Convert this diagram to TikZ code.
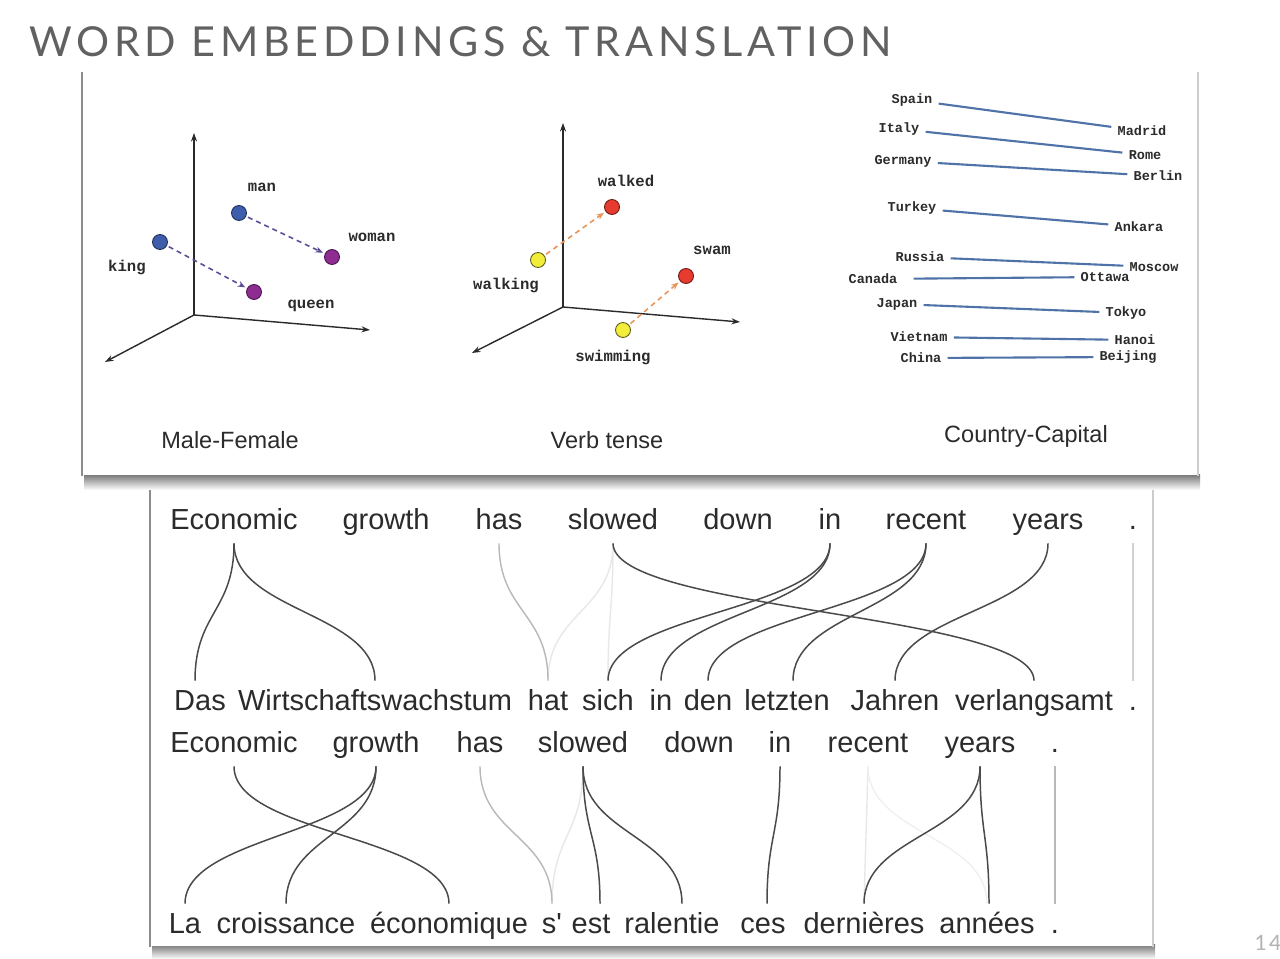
\documentclass[tikz,border=0pt]{standalone}
\usepackage{fontspec}
\setmainfont{Liberation Sans}
\newfontfamily\titlefont[LetterSpace=11.5]{Lato}
\newfontfamily\monofont{Liberation Mono}
\usetikzlibrary{arrows.meta,calc}
\definecolor{txt}{HTML}{2B2B2B}
\definecolor{dblue}{HTML}{3E5DAA}
\definecolor{dblueo}{HTML}{1F2F5A}
\definecolor{dpurple}{HTML}{8E2C91}
\definecolor{dpurpleo}{HTML}{4A1350}
\definecolor{dyellow}{HTML}{F2EC3A}
\definecolor{dyellowo}{HTML}{5E5C1C}
\definecolor{dred}{HTML}{E63B2E}
\definecolor{dredo}{HTML}{6B1A14}
\definecolor{arrpurple}{HTML}{5B4E96}
\definecolor{arrorange}{HTML}{E8955A}
\definecolor{caplinecol}{HTML}{4F72A8}
\definecolor{axiscol}{HTML}{2A2A2A}
\definecolor{alcol}{HTML}{4A4A4A}
\begin{document}
\begin{tikzpicture}[x=0.02cm,y=-0.02cm,
  axisline/.style={draw=axiscol,line width=0.8pt,-{Stealth[length=0.17cm,width=0.12cm]}},
  ptdot/.style={circle,draw,line width=0.5pt,minimum size=0.3cm,inner sep=0pt},
  lbl/.style={font=\monofont\bfseries\fontsize{8.9pt}{10pt}\selectfont,text=txt,inner sep=0pt},
  clbl/.style={font=\monofont\bfseries\fontsize{7.7pt}{9pt}\selectfont,text=txt,inner sep=0.12cm},
  dasharr/.style={line width=0.9pt,dash pattern=on 0.1cm off 0.08cm,-{Stealth[length=0.15cm,width=0.12cm]},shorten >=0.04cm,shorten <=0.04cm},
  cline/.style={draw=caplinecol,line width=1.2pt},
  captxt/.style={font=\fontsize{13.4pt}{15pt}\selectfont,text=txt,inner sep=0pt},
  word/.style={font=\fontsize{16.5pt}{18pt}\selectfont,text=txt,anchor=base,inner xsep=0pt,inner ysep=0.16cm,text height=0.42cm,text depth=0.12cm},
  al/.style={draw=alcol,line width=0.85pt},
  allight/.style={draw=black!28,line width=0.8pt},
  alfaint/.style={draw=black!9,line width=0.8pt}
]
\useasboundingbox (0,0) rectangle (1280,959);
\fill[white] (0,0) rectangle (1280,959);

% title
\node[font=\titlefont\fontsize{23.5pt}{26pt}\selectfont,text=black!62,anchor=base west,inner sep=0pt] (title) at (29,57) {WORD EMBEDDINGS \& TRANSLATION};

% top panel
\shade[top color=black!55,bottom color=white] (84,474) rectangle (1200,490);
\fill[white] (82,72) rectangle (1198,475);
\draw[black!45,line width=1.2pt] (82,72) -- (82,476);
\draw[black!20,line width=1pt] (1198,72) -- (1198,476);

% Male-Female
\coordinate (mo) at (194,315);
\coordinate (mz) at (194,133);
\coordinate (mx) at (370,330);
\coordinate (my) at (105,362);
\draw[axisline] (mo) -- (mz);
\draw[axisline] (mo) -- (mx);
\draw[axisline] (mo) -- (my);
\node[ptdot,fill=dblue,draw=dblueo] (man) at (239,213) {};
\node[ptdot,fill=dblue,draw=dblueo] (king) at (160,242) {};
\node[ptdot,fill=dpurple,draw=dpurpleo] (woman) at (332,257) {};
\node[ptdot,fill=dpurple,draw=dpurpleo] (queen) at (254,292) {};
\draw[dasharr,arrpurple] (man) -- (woman);
\draw[dasharr,arrpurple] (king) -- (queen);
\node[lbl] (lman) at (262,187) {man};
\node[lbl] (lwoman) at (372,237) {woman};
\node[lbl] (lking) at (127,267) {king};
\node[lbl] (lqueen) at (311,306) {queen};
\node[captxt] (cap1) at (230,440) {Male-Female};

% Verb tense
\coordinate (vo) at (563,307);
\coordinate (vz) at (563,123);
\coordinate (vx) at (740,322);
\coordinate (vy) at (472,353);
\draw[axisline] (vo) -- (vz);
\draw[axisline] (vo) -- (vx);
\draw[axisline] (vo) -- (vy);
\node[ptdot,fill=dred,draw=dredo] (walked) at (612,207) {};
\node[ptdot,fill=dyellow,draw=dyellowo] (walking) at (538,260) {};
\node[ptdot,fill=dred,draw=dredo] (swam) at (686,276) {};
\node[ptdot,fill=dyellow,draw=dyellowo] (swimming) at (623,330) {};
\draw[dasharr,arrorange] (walking) -- (walked);
\draw[dasharr,arrorange] (swimming) -- (swam);
\node[lbl] (lwalked) at (626,181) {walked};
\node[lbl] (lwalking) at (506,285) {walking};
\node[lbl] (lswam) at (712,250) {swam};
\node[lbl] (lswimming) at (613,357) {swimming};
\node[captxt] (cap2) at (607,440) {Verb tense};

% Country-Capital
\node[clbl] (spain) at (912,100) {Spain};
\node[clbl] (madrid) at (1142,131) {Madrid};
\node[clbl] (italy) at (899,129) {Italy};
\node[clbl] (rome) at (1145,155) {Rome};
\node[clbl] (germany) at (903,161) {Germany};
\node[clbl] (berlin) at (1158,176) {Berlin};
\node[clbl] (turkey) at (912,208) {Turkey};
\node[clbl] (ankara) at (1139,227) {Ankara};
\node[clbl] (russia) at (920,257) {Russia};
\node[clbl] (moscow) at (1154,267) {Moscow};
\node[clbl] (canada) at (873,279) {Canada};
\node[clbl] (ottawa) at (1105,277) {Ottawa};
\node[clbl] (japan) at (897,304) {Japan};
\node[clbl] (tokyo) at (1126,313) {Tokyo};
\node[clbl] (vietnam) at (919,337) {Vietnam};
\node[clbl] (hanoi) at (1135,340) {Hanoi};
\node[clbl] (china) at (921,358) {China};
\node[clbl] (beijing) at (1128,357) {Beijing};
\draw[cline] (spain) -- (madrid);
\draw[cline] (italy) -- (rome);
\draw[cline] (germany) -- (berlin);
\draw[cline] (turkey) -- (ankara);
\draw[cline] (russia) -- (moscow);
\draw[cline,shorten <=0.2cm] (canada) -- (ottawa);
\draw[cline] (japan) -- (tokyo);
\draw[cline] (vietnam) -- (hanoi);
\draw[cline] (china) -- (beijing);
\node[captxt] (cap3) at (1026,436) {Country-Capital};

% bottom panel
\shade[top color=black!55,bottom color=white] (152,944) rectangle (1155,959);
\fill[white] (150,490) rectangle (1153,946);
\draw[black!45,line width=1.2pt] (150,490) -- (150,947);
\draw[black!20,line width=1pt] (1153,490) -- (1153,947);

% row 1 English
\node[word] (a1) at (234,529) {Economic};
\node[word] (a2) at (386,529) {growth};
\node[word] (a3) at (499,529) {has};
\node[word] (a4) at (613,529) {slowed};
\node[word] (a5) at (738,529) {down};
\node[word] (a6) at (830,529) {in};
\node[word] (a7) at (926,529) {recent};
\node[word] (a8) at (1048,529) {years};
\node[word] (a9) at (1133,529) {.};
% row 2 German
\node[word] (b1) at (200,710) {Das};
\node[word] (b2) at (375,710) {Wirtschaftswachstum};
\node[word] (b3) at (548,710) {hat};
\node[word] (b4) at (608,710) {sich};
\node[word] (b5) at (661,710) {in};
\node[word] (b6) at (708,710) {den};
\node[word] (b7) at (787,710) {letzten};
\node[word] (b8) at (895,710) {Jahren};
\node[word] (b9) at (1034,710) {verlangsamt};
\node[word] (b10) at (1133,710) {.};
% row 3 English
\node[word] (c1) at (234,752) {Economic};
\node[word] (c2) at (376,752) {growth};
\node[word] (c3) at (480,752) {has};
\node[word] (c4) at (583,752) {slowed};
\node[word] (c5) at (699,752) {down};
\node[word] (c6) at (780,752) {in};
\node[word] (c7) at (868,752) {recent};
\node[word] (c8) at (980,752) {years};
\node[word] (c9) at (1055,752) {.};
% row 4 French
\node[word] (d1) at (185,933) {La};
\node[word] (d2) at (286,933) {croissance};
\node[word] (d3) at (449,933) {économique};
\node[word] (d4) at (552,933) {s\textquotesingle};
\node[word] (d5) at (591,933) {est};
\node[word] (d6) at (672,933) {ralentie};
\node[word] (d7) at (763,933) {ces};
\node[word] (d8) at (864,933) {dernières};
\node[word] (d9) at (987,933) {années};
\node[word] (d10) at (1055,933) {.};

% alignments English-German
\draw[alfaint] (a4.south) .. controls +(0,68) and +(0,-68) .. (b3.north);
\draw[alfaint] (a4.south) .. controls +(0,68) and +(0,-68) .. (b4.north);
\draw[allight] (a3.south) .. controls +(0,68) and +(0,-68) .. (b3.north);
\draw[allight,draw=black!18] (a9.south) -- (b10.north);
\draw[al] (a1.south) .. controls +(0,68) and +(0,-68) .. ($(b1.north)+(-5,0)$);
\draw[al] (a1.south) .. controls +(0,68) and +(0,-68) .. (b2.north);
\draw[al] (a4.south) .. controls +(0,68) and +(0,-68) .. (b9.north);
\draw[al] (a6.south) .. controls +(0,68) and +(0,-68) .. (b4.north);
\draw[al] (a6.south) .. controls +(0,68) and +(0,-68) .. (b5.north);
\draw[al] (a7.south) .. controls +(0,68) and +(0,-68) .. (b6.north);
\draw[al] (a7.south) .. controls +(0,68) and +(0,-68) .. ($(b7.north)+(6,0)$);
\draw[al] (a8.south) .. controls +(0,68) and +(0,-68) .. (b8.north);

% alignments English-French
\draw[alfaint] (c4.south) .. controls +(0,68) and +(0,-68) .. (d4.north);
\draw[alfaint] (c7.south) -- (d8.north);
\draw[alfaint,draw=black!6] (c7.south) .. controls +(0,68) and +(0,-68) .. (d9.north);
\draw[allight] (c3.south) .. controls +(0,68) and +(0,-68) .. (d4.north);
\draw[allight] (c9.south) -- (d10.north);
\draw[al] (c1.south) .. controls +(0,68) and +(0,-68) .. (d3.north);
\draw[al] (c2.south) .. controls +(0,68) and +(0,-68) .. (d1.north);
\draw[al] (c2.south) .. controls +(0,68) and +(0,-68) .. (d2.north);
\draw[al] (c4.south) .. controls +(0,68) and +(0,-68) .. ($(d5.north)+(9,0)$);
\draw[al] (c4.south) .. controls +(0,68) and +(0,-68) .. ($(d6.north)+(10,0)$);
\draw[al] (c6.south) .. controls +(0,68) and +(0,-68) .. ($(d7.north)+(4,0)$);
\draw[al] (c8.south) .. controls +(0,68) and +(0,-68) .. (d8.north);
\draw[al] (c8.south) .. controls +(0,68) and +(0,-68) .. ($(d9.north)+(2,0)$);

% page number
\node[font=\titlefont\fontsize{12pt}{14pt}\selectfont,text=black!30,inner sep=0pt] (pnum) at (1268,943) {14};
\end{tikzpicture}
\end{document}
